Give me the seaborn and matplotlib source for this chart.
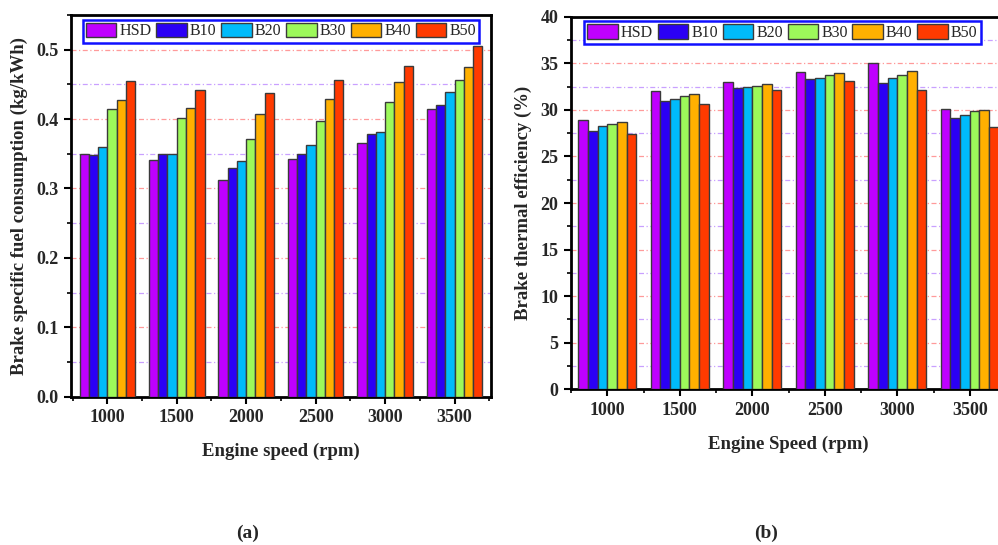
import matplotlib
matplotlib.use("Agg")
import matplotlib.pyplot as plt
import seaborn as sns
import pandas as pd
from matplotlib.ticker import MultipleLocator, FixedLocator, FuncFormatter

speeds = ["1000", "1500", "2000", "2500", "3000", "3500"]
fuels = ["HSD", "B10", "B20", "B30", "B40", "B50"]
colors = ["#BF00FF", "#2B00F5", "#00BBFA", "#9DF95A", "#FFB000", "#FF3A00"]

bsfc_HSD = [0.349, 0.341, 0.312, 0.343, 0.365, 0.414]
bsfc_B10 = [0.348, 0.349, 0.329, 0.350, 0.378, 0.421]
bsfc_B20 = [0.360, 0.349, 0.340, 0.362, 0.381, 0.439]
bsfc_B30 = [0.415, 0.401, 0.371, 0.397, 0.424, 0.457]
bsfc_B40 = [0.427, 0.416, 0.408, 0.429, 0.453, 0.475]
bsfc_B50 = [0.455, 0.442, 0.438, 0.456, 0.476, 0.506]

bte_HSD = [28.9, 32.0, 33.0, 34.1, 35.0, 30.1]
bte_B10 = [27.7, 30.9, 32.3, 33.3, 32.85, 29.1]
bte_B20 = [28.3, 31.2, 32.5, 33.45, 33.4, 29.5]
bte_B30 = [28.5, 31.5, 32.6, 33.75, 33.75, 29.85]
bte_B40 = [28.65, 31.7, 32.75, 34.0, 34.15, 30.0]
bte_B50 = [27.45, 30.65, 32.1, 33.05, 32.15, 28.15]

bsfc = [bsfc_HSD, bsfc_B10, bsfc_B20, bsfc_B30, bsfc_B40, bsfc_B50]
bte = [bte_HSD, bte_B10, bte_B20, bte_B30, bte_B40, bte_B50]


def long_df(series):
    rows = []
    for f, vals in zip(fuels, series):
        for s, v in zip(speeds, vals):
            rows.append({"speed": s, "fuel": f, "value": v})
    return pd.DataFrame(rows)


sns.set_theme(style="white")
plt.rcParams["font.family"] = ["Liberation Serif", "DejaVu Serif"]

fig = plt.figure(figsize=(9.98, 5.45), dpi=100)
W, H = 998, 545
axL = fig.add_axes([70.7 / W, 1 - 396.7 / H, (490.7 - 70.7) / W, (396.7 - 15) / H])
axR = fig.add_axes([571 / W, 1 - 389.3 / H, (1006 - 571) / W, (389.3 - 16.7) / H])


def style(ax, df, ylim, major, minor, ylabel, xlabel, xlim, fmt, leg_x):
    sns.barplot(data=df, x="speed", y="value", hue="fuel", order=speeds,
                hue_order=fuels, palette=colors, saturation=1, edgecolor="#3a3a3a",
                linewidth=1.0, width=0.8, ax=ax, zorder=3, legend=True)
    ax.set_ylim(*ylim)
    ax.set_xlim(*xlim)
    ax.yaxis.set_major_locator(MultipleLocator(major))
    ax.yaxis.set_minor_locator(MultipleLocator(minor))
    ax.xaxis.set_minor_locator(FixedLocator([i + 0.5 for i in range(-1, 6)]))
    ax.grid(True, which="major", axis="y", color="#FF9A9A", linestyle=(0, (4, 2, 1, 2)), linewidth=0.9, zorder=0)
    ax.grid(True, which="minor", axis="y", color="#C9A0FF", linestyle=(0, (4, 2, 1, 2)), linewidth=0.9, zorder=0)
    ax.set_axisbelow(True)
    for sp in ax.spines.values():
        sp.set_linewidth(2.0)
        sp.set_color("black")
    ax.tick_params(which="major", direction="out", length=5, width=1.5, color="black",
                   labelsize=13, bottom=True, left=True, pad=4)
    ax.tick_params(which="minor", direction="out", length=3, width=1.2, color="black",
                   bottom=True, left=True)
    for lab in ax.get_xticklabels() + ax.get_yticklabels():
        lab.set_fontweight("bold")
    ax.yaxis.set_major_formatter(fmt)
    ax.set_ylabel(ylabel, fontsize=13.5, fontweight="bold", labelpad=6)
    ax.set_xlabel(xlabel, fontsize=13.5, fontweight="bold", labelpad=12)
    leg = ax.legend(loc="upper left", bbox_to_anchor=(leg_x, 0.988), ncol=6,
                    frameon=True, fancybox=False, fontsize=11.5, handlelength=1.9,
                    handleheight=1.0, handletextpad=0.2, columnspacing=0.3,
                    borderpad=0.2, borderaxespad=0.0)
    fr = leg.get_frame()
    fr.set_edgecolor("#1010FF")
    fr.set_linewidth(1.8)
    fr.set_facecolor("white")
    fr.set_alpha(1)
    for p in leg.get_patches():
        p.set_edgecolor("#3a3a3a")
        p.set_linewidth(1.0)
    leg.set_zorder(5)


style(axL, long_df(bsfc), (0, 0.55), 0.1, 0.05,
      "Brake specific fuel consumption (kg/kWh)", "Engine speed (rpm)", (-0.527, 5.52),
      FuncFormatter(lambda v, p: f"{v:.1f}"), 12 / 420)
style(axR, long_df(bte), (0, 40), 5, 2.5,
      "Brake thermal efficiency (%)", "Engine Speed (rpm)", (-0.5, 5.5),
      FuncFormatter(lambda v, p: f"{v:.0f}"), 13 / 435)

fig.text(248 / W, 1 - 533 / H, "(a)", ha="center", va="center", fontsize=14,
         fontweight="bold")
fig.text(766 / W, 1 - 533 / H, "(b)", ha="center", va="center", fontsize=14,
         fontweight="bold")

fig.savefig("out.png", dpi=100)
